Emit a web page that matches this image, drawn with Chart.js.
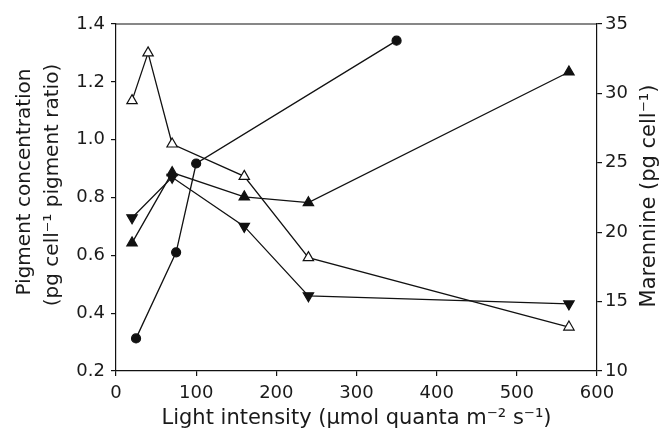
<!DOCTYPE html>
<html>
<head>
<meta charset="utf-8">
<script src="https://cdn.jsdelivr.net/npm/chart.js@4/dist/chart.umd.min.js"></script>
<style>
html,body{margin:0;padding:0;background:#fff;}
#wrap{width:663px;height:431px;}
</style>
</head>
<body>
<div id="wrap"><canvas id="c" width="663" height="431"></canvas></div>
<script>
// Data
const xOpenTri = [20, 40, 70, 160, 240, 565];
const yOpenTri = [1.135, 1.30, 0.985, 0.873, 0.592, 0.352];
const xUpTri = [20, 70, 160, 240, 565];
const yUpTri = [0.643, 0.886, 0.802, 0.782, 1.234];
const xDownTri = [20, 70, 160, 240, 565];
const yDownTri = [0.730, 0.870, 0.700, 0.460, 0.432];
const xCircle = [25, 75, 100, 350];
const yMarennine = [12.35, 18.55, 24.95, 33.8];

const xTitle = 'Light intensity (μmol quanta m⁻² s⁻¹)';
const yLeftTitle = ['Pigment concentration', '(pg cell⁻¹ pigment ratio)'];
const yRightTitle = 'Marennine (pg cell⁻¹)';

const pts = (xs, ys) => xs.map((x, i) => ({x: x, y: ys[i]}));
const FONT = "'DejaVu Sans', sans-serif";
const TXT = '#1a1a1a';

function vText(ctx, text, x, y, size) {
  ctx.save();
  ctx.translate(x, y);
  ctx.rotate(-Math.PI / 2);
  ctx.fillStyle = TXT;
  ctx.font = size + "px " + FONT;
  ctx.textAlign = 'center';
  ctx.textBaseline = 'middle';
  ctx.fillText(text, 0, 0);
  ctx.restore();
}

const frame = {
  id: 'frame',
  afterDraw(chart) {
    const {ctx, chartArea: a} = chart;
    ctx.save();
    ctx.strokeStyle = '#111';
    ctx.lineWidth = 1.2;
    ctx.beginPath();
    ctx.moveTo(a.left, a.top);
    ctx.lineTo(a.right, a.top);
    ctx.stroke();
    ctx.restore();
    // axis titles reading bottom-to-top
    vText(ctx, yLeftTitle[0], 25, 182, 20);
    vText(ctx, yLeftTitle[1], 53, 185, 20);
    vText(ctx, yRightTitle, 650, 196, 21);
  }
};

const common = {
  borderColor: '#111',
  borderWidth: 1.3,
  pointBorderColor: '#111',
  pointBorderWidth: 1.2,
  showLine: true,
  tension: 0
};

new Chart(document.getElementById('c'), {
  type: 'scatter',
  data: {
    datasets: [
      Object.assign({}, common, {
        label: 'open triangle', data: pts(xOpenTri, yOpenTri), yAxisID: 'y',
        pointStyle: 'triangle', pointRadius: 6, pointBackgroundColor: '#fff'
      }),
      Object.assign({}, common, {
        label: 'filled triangle', data: pts(xUpTri, yUpTri), yAxisID: 'y',
        pointStyle: 'triangle', pointRadius: 6, pointBackgroundColor: '#111'
      }),
      Object.assign({}, common, {
        label: 'inverted triangle', data: pts(xDownTri, yDownTri), yAxisID: 'y',
        pointStyle: 'triangle', pointRotation: 180, pointRadius: 6, pointBackgroundColor: '#111'
      }),
      Object.assign({}, common, {
        label: 'Marennine', data: pts(xCircle, yMarennine), yAxisID: 'y2',
        pointStyle: 'circle', pointRadius: 4.5, pointBackgroundColor: '#111'
      })
    ]
  },
  options: {
    responsive: false,
    animation: false,
    layout: {padding: {top: 24, left: 0, right: 0, bottom: 0}},
    plugins: {legend: {display: false}, tooltip: {enabled: false}},
    scales: {
      x: {
        type: 'linear', min: 0, max: 600,
        afterFit(s) { s.height = 60; },
        ticks: {stepSize: 100, color: TXT, font: {family: FONT, size: 18}, padding: 7, maxRotation: 0},
        grid: {display: true, drawOnChartArea: false, tickLength: 5, color: '#111', lineWidth: 1.2},
        border: {display: true, color: '#111', width: 1.2},
        title: {display: true, text: xTitle, color: TXT, font: {family: FONT, size: 21, lineHeight: 1.2}, padding: {top: 0, bottom: 0}}
      },
      y: {
        position: 'left', min: 0.2, max: 1.4,
        afterFit(s) { s.width = 116; },
        ticks: {stepSize: 0.2, color: TXT, font: {family: FONT, size: 18}, padding: 6,
          callback: v => v.toFixed(1)},
        grid: {display: true, drawOnChartArea: false, tickLength: 5, color: '#111', lineWidth: 1.2},
        border: {display: true, color: '#111', width: 1.2},
        title: {display: false, text: yLeftTitle}
      },
      y2: {
        position: 'right', min: 10, max: 35,
        afterFit(s) { s.width = 66; },
        ticks: {stepSize: 5, color: TXT, font: {family: FONT, size: 18}, padding: 3},
        grid: {display: true, drawOnChartArea: false, tickLength: 5, color: '#111', lineWidth: 1.2},
        border: {display: true, color: '#111', width: 1.2},
        title: {display: false, text: yRightTitle}
      }
    }
  },
  plugins: [frame]
});
</script>
</body>
</html>
